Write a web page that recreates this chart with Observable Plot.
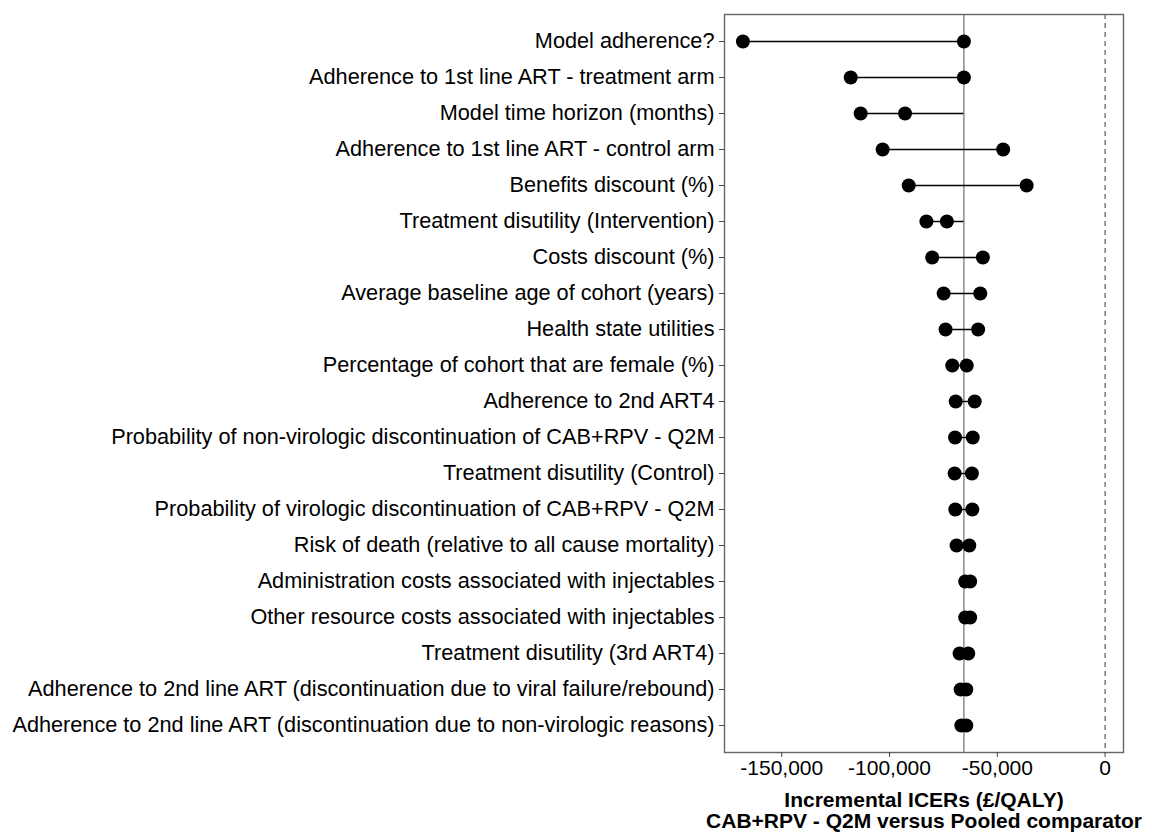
<!DOCTYPE html>
<html>
<head>
<meta charset="utf-8">
<script src="https://cdn.jsdelivr.net/npm/d3@7"></script>
<script src="https://cdn.jsdelivr.net/npm/@observablehq/plot@0.6"></script>
<style>
  html, body { margin: 0; padding: 0; background: #fff; }
</style>
</head>
<body>
<div id="chart"></div>
<script>
const parameters = [
  "Model adherence?",
  "Adherence to 1st line ART - treatment arm",
  "Model time horizon (months)",
  "Adherence to 1st line ART - control arm",
  "Benefits discount (%)",
  "Treatment disutility (Intervention)",
  "Costs discount (%)",
  "Average baseline age of cohort (years)",
  "Health state utilities",
  "Percentage of cohort that are female (%)",
  "Adherence to 2nd ART4",
  "Probability of non-virologic discontinuation of CAB+RPV - Q2M",
  "Treatment disutility (Control)",
  "Probability of virologic discontinuation of CAB+RPV - Q2M",
  "Risk of death (relative to all cause mortality)",
  "Administration costs associated with injectables",
  "Other resource costs associated with injectables",
  "Treatment disutility (3rd ART4)",
  "Adherence to 2nd line ART (discontinuation due to viral failure/rebound)",
  "Adherence to 2nd line ART (discontinuation due to non-virologic reasons)"
];
const icerLow = [-168000, -118000, -113400, -103200, -91100, -82900, -80200, -74900, -74000, -70900,
                 -69300, -69600, -69800, -69500, -68900, -64900, -64900, -67500, -67000, -66700];
const icerHigh = [-65500, -65500, -92800, -47300, -36400, -73400, -56700, -57900, -58900, -64200,
                  -60500, -61400, -61800, -61600, -63000, -62600, -62600, -63500, -64400, -64400];
const baseICER = -65500;
const xTicks = [-150000, -100000, -50000, 0];
const xTitle = "Incremental ICERs (£/QALY)\nCAB+RPV - Q2M versus Pooled comparator";

const rows = parameters.map((p, i) => ({
  parameter: p,
  low: icerLow[i],
  high: icerHigh[i],
  x1: Math.min(icerLow[i], icerHigh[i], baseICER),
  x2: Math.max(icerLow[i], icerHigh[i], baseICER)
}));
const dots = rows.flatMap(r => [{parameter: r.parameter, v: r.low}, {parameter: r.parameter, v: r.high}]);

const fmt = d => d.toLocaleString("en-US");

const chart = Plot.plot({
  width: 1152,
  height: 834,
  marginLeft: 724,
  marginRight: 29,
  marginTop: 14,
  marginBottom: 82,
  style: {fontFamily: "'Liberation Sans', Arial, sans-serif", fontSize: "21px", color: "#000", background: "#fff"},
  x: {domain: [-176550, 8527], ticks: xTicks, tickFormat: fmt},
  y: {type: "point", domain: parameters, padding: 0.6},
  marks: [
    Plot.ruleX([baseICER], {stroke: "#7a7a7a", strokeWidth: 1.3}),
    Plot.ruleX([0], {stroke: "#666", strokeWidth: 1.3, strokeDasharray: "5,4"}),
    Plot.ruleY(rows, {y: "parameter", x1: "x1", x2: "x2", stroke: "#000", strokeWidth: 1.4}),
    Plot.dot(dots, {y: "parameter", x: "v", r: 7, fill: "#000", stroke: "none"}),
    Plot.frame({stroke: "#666", strokeWidth: 1.4}),
    Plot.axisY({tickSize: 5, tickPadding: 5, label: null, stroke: "#444", fill: "#000", fontSize: 21.7}),
    Plot.axisX({ticks: xTicks, tickFormat: fmt, tickSize: 5, tickPadding: 3, label: null, stroke: "#444", fill: "#000", fontSize: 21}),
    Plot.text([xTitle], {frameAnchor: "bottom", lineAnchor: "top", dy: 40, text: d => d, fontWeight: "bold", fontSize: 21, lineHeight: 1.0, fill: "#000"})
  ]
});
document.getElementById("chart").appendChild(chart);
</script>
</body>
</html>
